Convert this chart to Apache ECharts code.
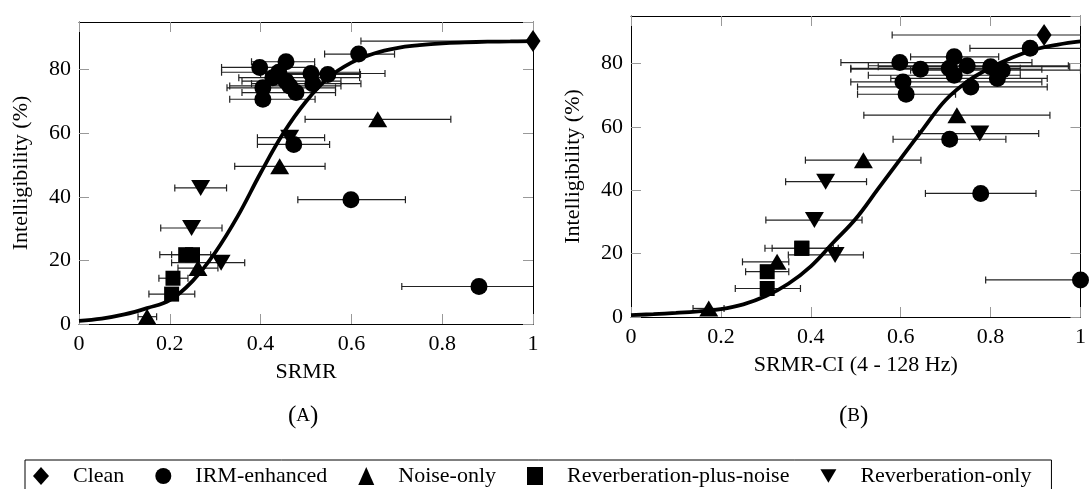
<!DOCTYPE html>
<html>
<head>
<meta charset="utf-8">
<script src="https://cdn.jsdelivr.net/npm/echarts@6/dist/echarts.min.js"></script>
<style>
html,body{margin:0;padding:0;background:#fff;}
#chart{width:1089px;height:489px;}
</style>
</head>
<body>
<div id="chart"></div>
<script>
// ---------- DATA ----------
const categories = ['Clean', 'IRM-enhanced', 'Noise-only', 'Reverberation-plus-noise', 'Reverberation-only'];
const xTicks = [0, 0.2, 0.4, 0.6, 0.8, 1];
const yTicks = [0, 20, 40, 60, 80];

// Panel A (SRMR)
const cleanA_x = [1.0];
const cleanA_y = [89];
const cleanA_err = [[0.621, 1.0]];
const irmA_x = [0.616, 0.456, 0.398, 0.440, 0.511, 0.548, 0.427, 0.456, 0.515, 0.464, 0.405, 0.478, 0.405, 0.473, 0.599, 0.881];
const irmA_y = [84.9, 82.5, 80.7, 79.2, 78.8, 78.5, 77.5, 76.4, 75.6, 74.9, 74.3, 72.8, 70.7, 56.5, 39.1, 11.8];
const irmA_err = [[0.541,0.695],[0.38,0.519],[0.314,0.519],[0.314,0.618],[0.40,0.674],[0.44,0.62],[0.352,0.618],[0.359,0.577],[0.38,0.621],[0.332,0.577],[0.326,0.565],[0.359,0.565],[0.332,0.52],[0.393,0.552],[0.482,0.719],[0.711,1.05]];
const noiseA_x = [0.150, 0.262, 0.442, 0.658];
const noiseA_y = [2.3, 17.6, 49.6, 64.4];
const noiseA_err = [[0.13,0.171],[0.218,0.306],[0.343,0.542],[0.498,0.819]];
const rpnA_x = [0.235, 0.250, 0.207, 0.204];
const rpnA_y = [21.8, 21.8, 14.4, 9.4];
const rpnA_err = [[0.178,0.30],[0.204,0.29],[0.176,0.24],[0.154,0.255]];
const revA_x = [0.464, 0.268, 0.248, 0.313];
const revA_y = [58.6, 42.8, 30.2, 19.3];
const revA_err = [[0.393,0.541],[0.211,0.325],[0.18,0.315],[0.204,0.365]];
const curveA_x = [0,0.05,0.1,0.15,0.2,0.25,0.3,0.35,0.4,0.45,0.5,0.55,0.6,0.65,0.7,0.75,0.8,0.85,0.9,0.95,1.0];
const curveA_y = [1.0,1.7,3.0,5.0,7.5,13.5,22.5,34,47.5,60,70,77.5,82.2,85.1,86.8,87.7,88.3,88.6,88.8,88.9,89.0];

// Panel B (SRMR-CI)
const cleanB_x = [0.919];
const cleanB_y = [89];
const cleanB_err = [[0.581, 1.05]];
const irmB_x = [0.888, 0.719, 0.598, 0.748, 0.800, 0.708, 0.644, 0.826, 0.719, 0.815, 0.605, 0.756, 0.612, 0.709, 0.778, 1.0];
const irmB_y = [84.8, 82.1, 80.3, 79.3, 79.0, 78.5, 78.2, 77.9, 76.3, 75.3, 74.2, 72.6, 70.3, 56.1, 39.0, 11.7];
const irmB_err = [[0.754,1.05],[0.622,0.818],[0.467,0.892],[0.528,0.973],[0.55,0.976],[0.489,0.866],[0.489,0.914],[0.622,1.0],[0.528,0.866],[0.578,0.926],[0.489,0.914],[0.504,0.926],[0.504,0.722],[0.583,0.834],[0.655,0.901],[0.789,1.1]];
const noiseB_x = [0.173, 0.325, 0.517, 0.725];
const noiseB_y = [2.7, 17.4, 49.5, 63.7];
const noiseB_err = [[0.138,0.207],[0.248,0.351],[0.388,0.645],[0.518,0.932]];
const rpnB_x = [0.380, 0.380, 0.303, 0.303];
const rpnB_y = [21.7, 21.7, 14.3, 9.0];
const rpnB_err = [[0.298,0.461],[0.314,0.45],[0.255,0.351],[0.232,0.377]];
const revB_x = [0.776, 0.433, 0.408, 0.454];
const revB_y = [57.9, 42.7, 30.6, 19.6];
const revB_err = [[0.64,0.907],[0.344,0.524],[0.300,0.514],[0.35,0.517]];
const curveB_x = [0,0.05,0.1,0.15,0.2,0.25,0.3,0.35,0.4,0.45,0.5,0.55,0.6,0.65,0.7,0.75,0.8,0.85,0.9,0.95,1.0];
const curveB_y = [0.6,0.9,1.3,1.8,2.5,4.0,6.6,10.5,16,23.5,31,40.5,50,59.4,68.5,74.5,78.7,82,84.5,86,87];

// ---------- BUILD ----------
const FONT = 'Liberation Serif';
const FS = 22;
const DOWN_TRI = 'path://M0,0L20,0L10,17Z';
const symbolOf = {
  'Clean': {symbol: 'diamond', size: [15, 22]},
  'IRM-enhanced': {symbol: 'circle', size: 17},
  'Noise-only': {symbol: 'triangle', size: [19, 16]},
  'Reverberation-plus-noise': {symbol: 'rect', size: 15},
  'Reverberation-only': {symbol: DOWN_TRI, size: [19, 16]}
};

const zip = (xs, ys) => xs.map((x, i) => [x, ys[i]]);

function makeAxes(gi) {
  const common = {
    type: 'value', gridIndex: gi,
    axisLine: {show: true, onZero: false, lineStyle: {color: '#000', width: 1}},
    axisTick: {show: true, inside: true, length: 10, lineStyle: {color: '#999', width: 1}},
    splitLine: {show: false}
  };
  const xb = Object.assign({}, common, {
    position: 'bottom', min: 0, max: 1, interval: 0.2,
    axisLabel: {show: true, margin: 9, color: '#000', fontFamily: FONT, fontSize: FS,
      formatter: v => String(Math.round(v * 10) / 10)},
    name: gi === 0 ? 'SRMR' : 'SRMR-CI (4 - 128 Hz)',
    nameLocation: 'middle', nameGap: 37,
    nameTextStyle: {color: '#000', fontFamily: FONT, fontSize: FS}
  });
  const xt = Object.assign({}, common, {
    position: 'top', min: 0, max: 1, interval: 0.2, axisLabel: {show: false}
  });
  const yl = Object.assign({}, common, {
    position: 'left', min: 0, max: 95, interval: 20,
    axisLabel: {show: true, margin: 8, color: '#000', fontFamily: FONT, fontSize: FS, showMaxLabel: false,
      formatter: v => (v % 20 === 0 ? String(v) : '')},
    name: 'Intelligibility (%)', nameLocation: 'middle', nameGap: 47, nameRotate: 90,
    nameTextStyle: {color: '#000', fontFamily: FONT, fontSize: FS}
  });
  const yr = Object.assign({}, common, {
    position: 'right', min: 0, max: 95, interval: 20, axisLabel: {show: false}
  });
  return {x: [xb, xt], y: [yl, yr]};
}

const axA = makeAxes(0), axB = makeAxes(1);

function scatter(name, xs, ys, axisIdx) {
  const s = symbolOf[name];
  return {
    type: 'scatter', name: name, xAxisIndex: axisIdx, yAxisIndex: axisIdx,
    data: zip(xs, ys), symbol: s.symbol, symbolSize: s.size,
    itemStyle: {color: '#000', opacity: 1}, z: 4, silent: true, animation: false
  };
}

function errorBars(errs, ys, axisIdx) {
  const data = errs.map((e, i) => [e[0], e[1], ys[i]]);
  return {
    type: 'custom', xAxisIndex: axisIdx, yAxisIndex: axisIdx, clip: true, z: 3, silent: true,
    encode: {x: [0, 1], y: 2}, animation: false,
    renderItem: function (params, api) {
      const y = api.value(2);
      const p1 = api.coord([api.value(0), y]);
      const p2 = api.coord([api.value(1), y]);
      const h = 3.5;
      const st = {stroke: '#222', lineWidth: 1.2};
      return {type: 'group', children: [
        {type: 'line', shape: {x1: p1[0], y1: p1[1], x2: p2[0], y2: p2[1]}, style: st},
        {type: 'line', shape: {x1: p1[0], y1: p1[1] - h, x2: p1[0], y2: p1[1] + h}, style: st},
        {type: 'line', shape: {x1: p2[0], y1: p2[1] - h, x2: p2[0], y2: p2[1] + h}, style: st}
      ]};
    },
    data: data
  };
}

function curve(xs, ys, axisIdx) {
  return {
    type: 'line', xAxisIndex: axisIdx, yAxisIndex: axisIdx, data: zip(xs, ys),
    smooth: 0.4, showSymbol: false, symbol: 'none', silent: true, z: 5, animation: false,
    lineStyle: {color: '#000', width: 3.8}
  };
}

const series = [];
const panels = [
  {ax: 0, clean: [cleanA_x, cleanA_y, cleanA_err], irm: [irmA_x, irmA_y, irmA_err], noise: [noiseA_x, noiseA_y, noiseA_err],
   rpn: [rpnA_x, rpnA_y, rpnA_err], rev: [revA_x, revA_y, revA_err], curve: [curveA_x, curveA_y]},
  {ax: 2, clean: [cleanB_x, cleanB_y, cleanB_err], irm: [irmB_x, irmB_y, irmB_err], noise: [noiseB_x, noiseB_y, noiseB_err],
   rpn: [rpnB_x, rpnB_y, rpnB_err], rev: [revB_x, revB_y, revB_err], curve: [curveB_x, curveB_y]}
];
panels.forEach(p => {
  const groups = [['Clean', p.clean], ['IRM-enhanced', p.irm], ['Noise-only', p.noise],
                  ['Reverberation-plus-noise', p.rpn], ['Reverberation-only', p.rev]];
  groups.forEach(g => series.push(errorBars(g[1][2], g[1][1], p.ax)));
  series.push(curve(p.curve[0], p.curve[1], p.ax));
  groups.forEach(g => series.push(scatter(g[0], g[1][0], g[1][1], p.ax)));
});

const legendIcons = {
  'Clean': 'diamond', 'IRM-enhanced': 'circle', 'Noise-only': 'triangle',
  'Reverberation-plus-noise': 'rect', 'Reverberation-only': DOWN_TRI
};

const option = {
  animation: false,
  backgroundColor: '#fff',
  grid: [
    {left: 79, top: 22, width: 454, height: 302, containLabel: false},
    {left: 631, top: 16, width: 453, height: 301, containLabel: false}
  ],
  xAxis: [axA.x[0], axA.x[1], axB.x[0], axB.x[1]],
  yAxis: [axA.y[0], axA.y[1], axB.y[0], axB.y[1]],
  legend: {
    show: true, selectedMode: false, orient: 'horizontal',
    left: 25, top: 460,
    padding: [5, 20, 6, 8],
    borderColor: '#000', borderWidth: 1,
    itemWidth: 16, itemHeight: 18, itemGap: 31,
    textStyle: {color: '#000', fontFamily: FONT, fontSize: FS, padding: [0, 0, 0, 19]},
    itemStyle: {color: '#000'},
    data: categories.map(c => ({name: c, icon: legendIcons[c]}))
  },
  graphic: [
    {type: 'text', left: 306 - 18, top: 404, style: {text: '{p|(}{a|A}{p|)}', rich: {
      p: {fontFamily: FONT, fontSize: 25, fill: '#000'}, a: {fontFamily: FONT, fontSize: 19, fill: '#000'}}}},
    {type: 'text', left: 857 - 18, top: 404, style: {text: '{p|(}{a|B}{p|)}', rich: {
      p: {fontFamily: FONT, fontSize: 25, fill: '#000'}, a: {fontFamily: FONT, fontSize: 19, fill: '#000'}}}}
  ],
  series: series
};

const chart = echarts.init(document.getElementById('chart'), null, {renderer: 'canvas'});
chart.setOption(option);
</script>
</body>
</html>
